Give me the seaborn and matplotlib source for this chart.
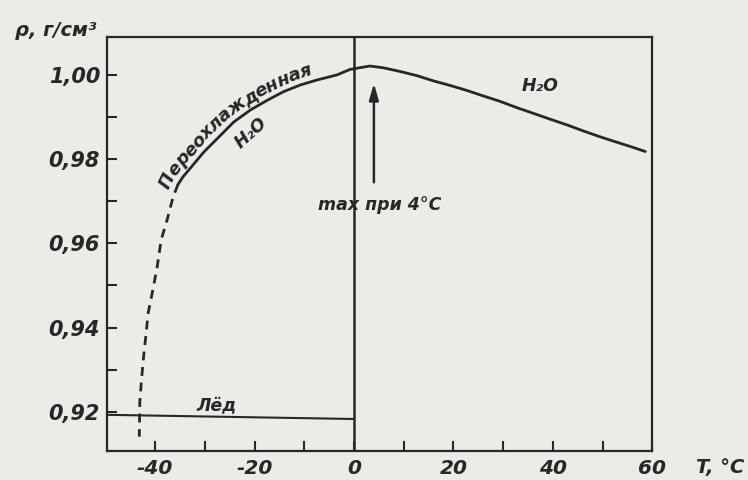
import numpy as np
import matplotlib
matplotlib.use('Agg')
import matplotlib.pyplot as plt
from matplotlib.transforms import IdentityTransform
import seaborn as sns

# вода (сплошная линия): T, °C и плотность, г/см3
water_t = [-35.4, -34.4, -32.4, -30.2, -27.4, -24.2, -20.8, -17.4, -14.2, -10.8,
           -7.4, -3.4, -0.8, 3.2, 5.8, 9.3, 12.7, 15.9, 19.3, 22.7, 26.0, 29.4,
           32.8, 36.0, 39.4, 42.9, 46.1, 49.5, 52.9, 56.1, 58.6]
water_rho = [0.9740, 0.9758, 0.9786, 0.9817, 0.9850, 0.9888, 0.9917, 0.9940, 0.9960, 0.9976,
             0.9988, 1.0000, 1.0013, 1.0021, 1.0017, 1.0008, 0.9998, 0.9986, 0.9975, 0.9963,
             0.9950, 0.9937, 0.9922, 0.9909, 0.9895, 0.9881, 0.9867, 0.9853, 0.9840, 0.9828,
             0.9818]

# переохлажденная вода, пунктир
cool_t = [-35.4, -36.4, -37.6, -38.8, -39.6, -40.6, -41.4, -41.9, -42.4, -42.8, -43.1, -43.2]
cool_rho = [0.9740, 0.9710, 0.9656, 0.9608, 0.9544, 0.9482, 0.9435, 0.9378, 0.9323, 0.9269,
            0.9221, 0.9141]

# лёд
ice_t = [-50, 0]
ice_rho = [0.9193, 0.9183]

x_ticks = [-40, -20, 0, 20, 40, 60]
x_labels = ['-40', '-20', '0', '20', '40', '60']
x_minor = [-30, -10, 10, 30, 50]
y_ticks = [0.92, 0.94, 0.96, 0.98, 1.00]
y_labels = ['0,92', '0,94', '0,96', '0,98', '1,00']
y_minor = [0.93, 0.95, 0.97, 0.99]

sns.set_style('ticks')
plt.rcParams['font.family'] = ['DejaVu Sans']
plt.rcParams['font.style'] = 'italic'
plt.rcParams['font.weight'] = 'bold'

ink = '#272727'
paper = '#ebebe8'

fig = plt.figure(figsize=(7.48, 4.8), dpi=100, facecolor=paper)
ax = fig.add_axes([0.143, 0.0604, 0.729, 0.8626])
ax.set_facecolor(paper)

sns.lineplot(x=water_t, y=water_rho, ax=ax, color=ink, lw=2, sort=False, estimator=None)
sns.lineplot(x=cool_t, y=cool_rho, ax=ax, color=ink, lw=2, sort=False, estimator=None,
             linestyle=(0, (3.2, 2.4)))
sns.lineplot(x=ice_t, y=ice_rho, ax=ax, color=ink, lw=1.5, sort=False, estimator=None)
ax.axvline(0, color=ink, lw=1.8)

ax.set_xlim(-49.7, 60)
ax.set_ylim(0.9107, 1.009)
ax.set_xticks(x_ticks, x_labels)
ax.set_yticks(y_ticks, y_labels)
ax.set_xticks(x_minor, minor=True)
ax.set_yticks(y_minor, minor=True)
ax.tick_params(which='both', direction='in', length=7, width=1.5, color=ink, labelcolor=ink)
ax.tick_params(axis='x', labelsize=14.5, pad=6)
ax.tick_params(axis='y', labelsize=15, pad=5)
for sp in ax.spines.values():
    sp.set_visible(True)
    sp.set_linewidth(1.6)
    sp.set_color(ink)
ax.set_xlabel('')
ax.set_ylabel('')

# стрелка к максимуму
ax.annotate('', xy=(4, 0.998), xytext=(4, 0.9745),
            arrowprops=dict(arrowstyle='-|>,head_length=0.7,head_width=0.2', color=ink,
                            lw=1.8, mutation_scale=14, shrinkA=0, shrinkB=0))
ax.text(5.2, 0.9679, 'max при 4°C', ha='center', va='baseline', size=12.5, color=ink)
ax.text(37.4, 0.9974, 'H₂O', ha='center', va='center', size=12.5, color=ink)
ax.text(-20.8, 0.9862, 'H₂O', rotation=42, ha='center', va='center', size=12.5, color=ink)
ax.text(-27.6, 0.9213, 'Лёд', ha='center', va='center', size=12.5, color=ink)

fig.text(720 / 748, 1 - 468 / 480, 'T, °C', ha='center', va='center', size=14, color=ink)
fig.text(56 / 748, 1 - 31 / 480, 'ρ, г/см³', ha='center', va='center', size=14, color=ink)


# подпись вдоль кривой
def text_on_curve(s, xs, ys, t0, t1, offset, size):
    fig.canvas.draw()
    r = fig.canvas.get_renderer()
    P = ax.transData.transform(np.column_stack([xs, ys]))
    d = np.gradient(P, axis=0)
    d /= np.linalg.norm(d, axis=1)[:, None]
    Q = P + offset * np.column_stack([-d[:, 1], d[:, 0]])
    s_cum = np.concatenate([[0], np.cumsum(np.hypot(*np.diff(Q, axis=0).T))])
    s0 = np.interp(t0, xs, s_cum)
    s1 = np.interp(t1, xs, s_cum)
    widths = []
    for ch in s:
        tt = fig.text(0, 0, ch, size=size)
        widths.append(tt.get_window_extent(r).width)
        tt.remove()
    widths = np.array(widths)
    k = (s1 - s0) / widths.sum()
    starts = np.concatenate([[0], np.cumsum(widths)[:-1]])
    for ch, st, w in zip(s, starts, widths):
        sc = s0 + k * (st + w / 2)
        x = np.interp(sc, s_cum, Q[:, 0])
        y = np.interp(sc, s_cum, Q[:, 1])
        xa, ya = np.interp(sc - 5, s_cum, Q[:, 0]), np.interp(sc - 5, s_cum, Q[:, 1])
        xb, yb = np.interp(sc + 5, s_cum, Q[:, 0]), np.interp(sc + 5, s_cum, Q[:, 1])
        ang = np.degrees(np.arctan2(yb - ya, xb - xa))
        fig.text(x, y, ch, transform=IdentityTransform(), rotation=ang,
                 rotation_mode='anchor', ha='center', va='baseline', size=size, color=ink)


path_t = cool_t[4:0:-1] + water_t[:14]
path_rho = cool_rho[4:0:-1] + water_rho[:14]
text_on_curve('Переохлажденная', path_t, path_rho, -36.0, -8.0, 6, 13)

fig.savefig('out.png', dpi=100, facecolor=paper)
